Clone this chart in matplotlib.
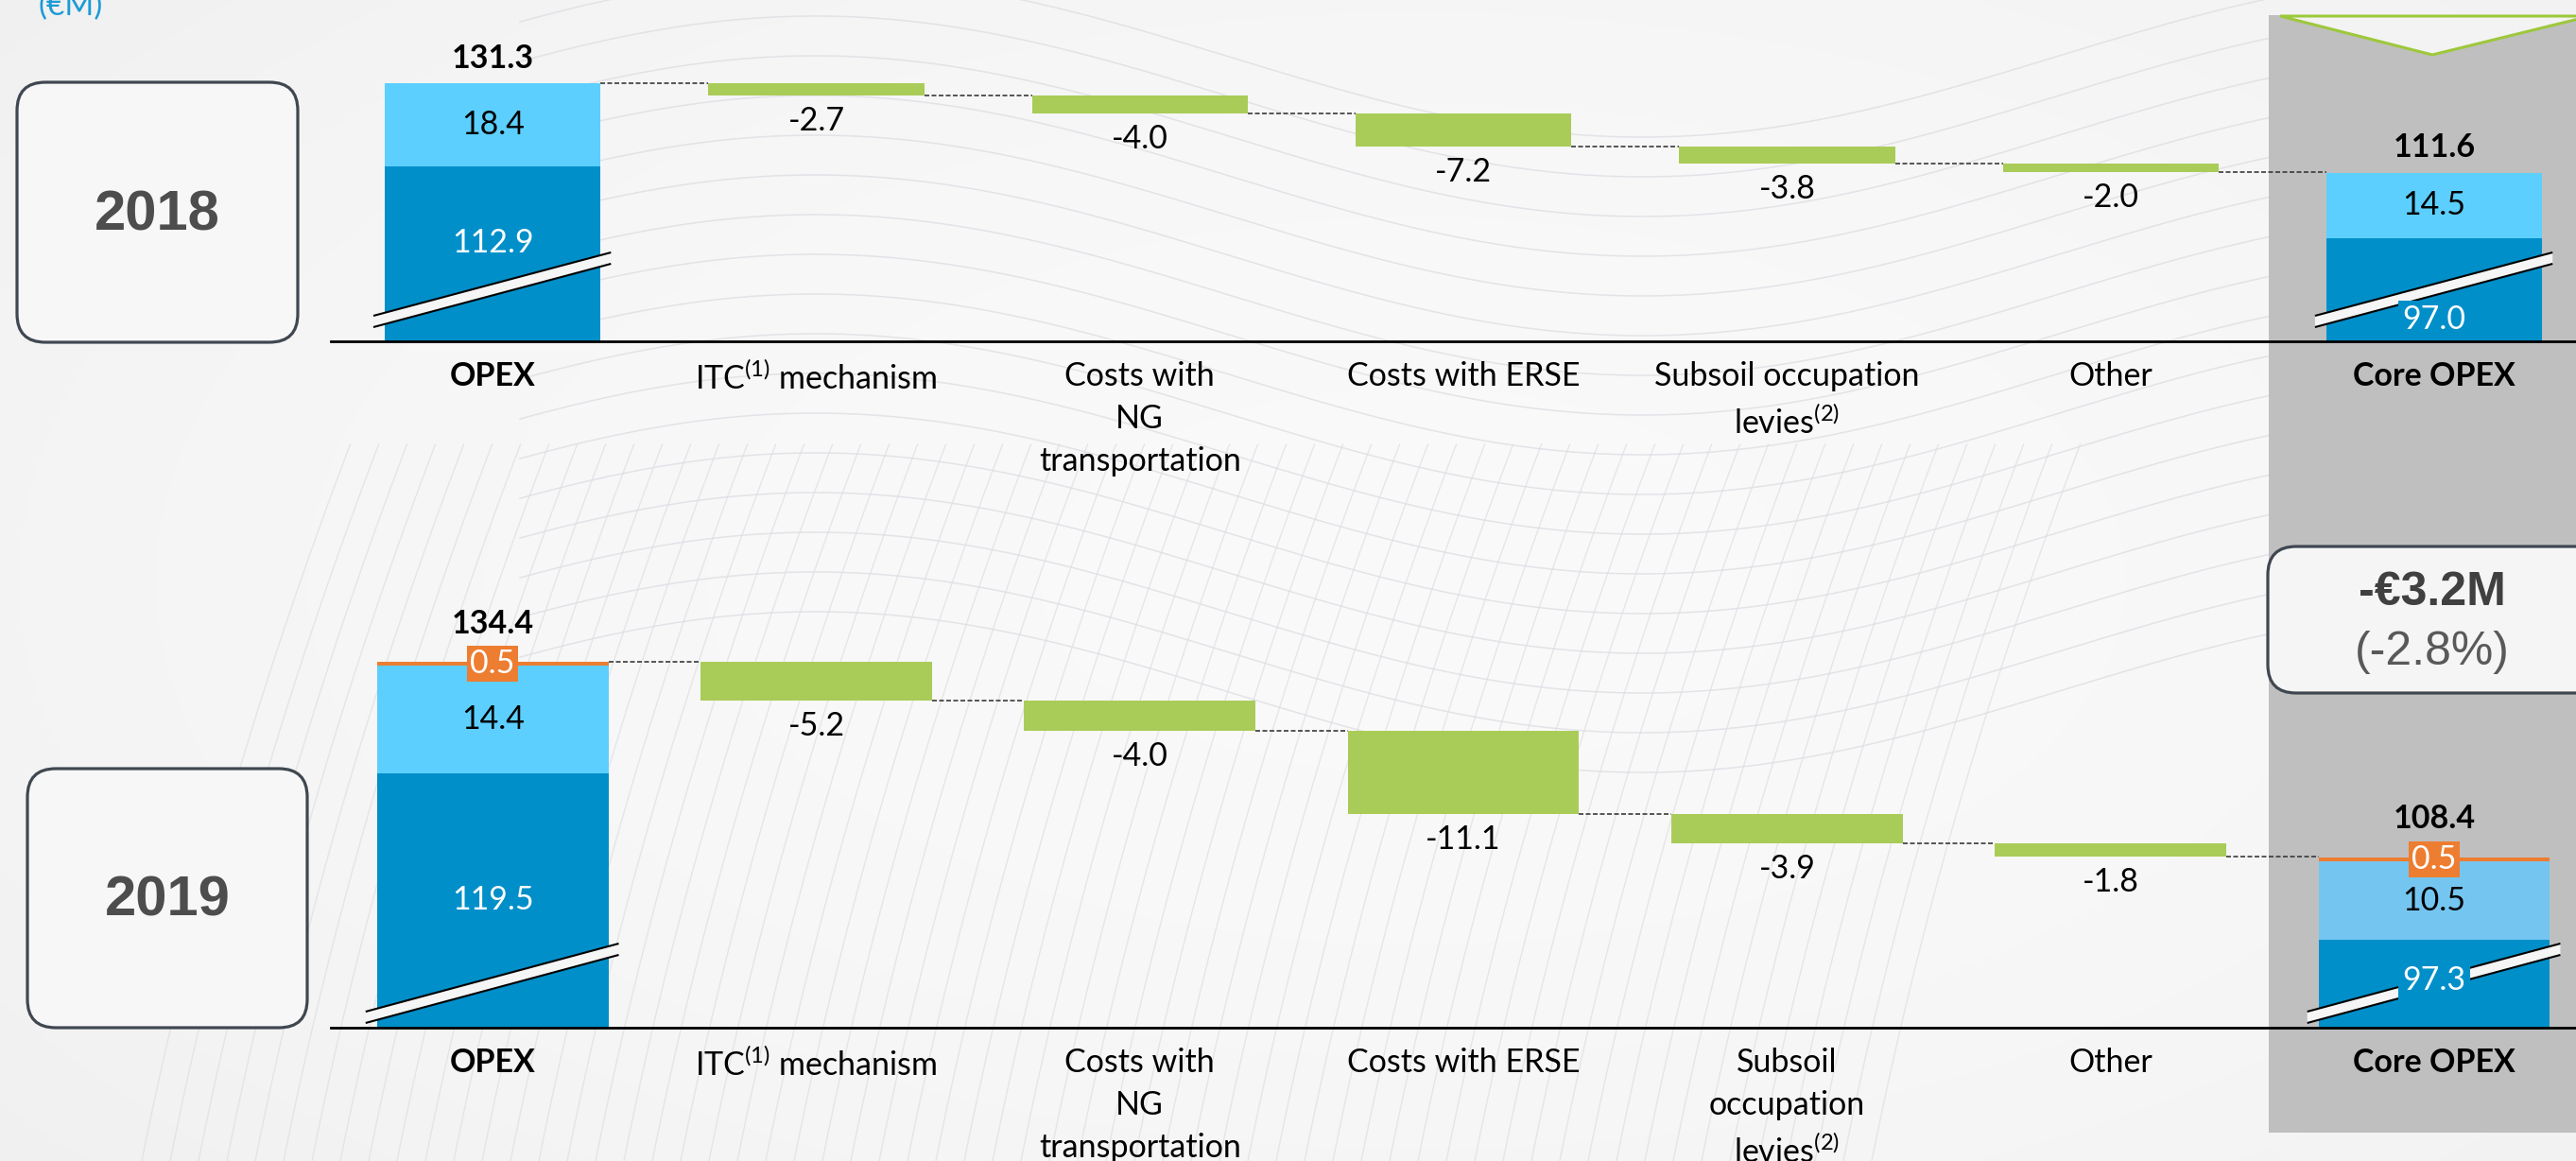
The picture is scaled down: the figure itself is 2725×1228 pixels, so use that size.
import numpy as np
import matplotlib
matplotlib.use("Agg")
import matplotlib.pyplot as plt
from matplotlib.patches import Rectangle, FancyBboxPatch, Polygon
from matplotlib.transforms import Affine2D

# ---------------- data ----------------
start_label = "OPEX"
end_label = "Core OPEX"
step_labels_2018 = ["ITC$^{\\mathrm{(1)}}$ mechanism", "Costs with\nNG\ntransportation",
                    "Costs with ERSE", "Subsoil occupation\nlevies$^{\\mathrm{(2)}}$", "Other"]
step_labels_2019 = ["ITC$^{\\mathrm{(1)}}$ mechanism", "Costs with\nNG\ntransportation",
                    "Costs with ERSE", "Subsoil\noccupation\nlevies$^{\\mathrm{(2)}}$", "Other"]

steps_2018 = [-2.7, -4.0, -7.2, -3.8, -2.0]
steps_2019 = [-5.2, -4.0, -11.1, -3.9, -1.8]

opex_segments_2018 = [112.9, 18.4]          # base, rest
opex_total_2018 = 131.3
core_segments_2018 = [97.0, 14.5]
core_total_2018 = 111.6

opex_segments_2019 = [119.5, 14.4, 0.5]     # base, rest, orange
opex_total_2019 = 134.4
core_segments_2019 = [97.3, 10.5, 0.5]
core_total_2019 = 108.4

years = ["2018", "2019"]
delta_value = "-€3.2M"
delta_pct = "(-2.8%)"
unit_label = "(€M)"

# ---------------- style ----------------
W, H, DPI = 2725, 1228, 100
DARK = "#008fc9"
LIGHT = "#5ccfff"
LIGHT2 = "#74c6f1"
ORANGE = "#ed7d31"
GREEN = "#a9cc58"
PANEL = "#bfbfbf"
BG = "#f5f5f5"
FS = 24.5

plt.rcParams['font.family'] = ['Lato', 'DejaVu Sans']
plt.rcParams['mathtext.fontset'] = 'custom'
plt.rcParams['mathtext.rm'] = 'Lato'
plt.rcParams['mathtext.it'] = 'Lato:italic'
plt.rcParams['mathtext.bf'] = 'Lato:bold'

fig = plt.figure(figsize=(W / DPI, H / DPI), dpi=DPI)
PX = Affine2D().scale(1 / W, -1 / H).translate(0, 1) + fig.transFigure  # pixel coords, top-left origin

# background: soft gradient + faint decorative wave lines
bg = fig.add_axes([0, 0, 1, 1], zorder=-10)
bg.axis('off')
yy, xx = np.mgrid[0:1:200j, 0:1:400j]
v = 0.978 - 0.055 * ((xx - 0.55) ** 2 * 1.3 + (yy - 0.5) ** 2)
bg.imshow(np.dstack([v, v, v]), extent=[0, W, H, 0], aspect='auto', interpolation='bilinear')
xs_dec = np.linspace(550, 2420, 300)
for c in np.arange(60, 760, 42):
    bg.plot(xs_dec, c + 85 * np.sin(2 * np.pi * (xs_dec - 1300) / 1750), color="#dcdce3",
            lw=1.1, alpha=0.75)
ys_dec = np.linspace(H, 470, 200)
for x0 in np.arange(150, 2000, 30):
    t = H - ys_dec
    bg.plot(x0 + 0.2 * t + 0.00012 * t ** 2, ys_dec, color="#dcdce3", lw=1.0, alpha=0.65)
bg.set_xlim(0, W)
bg.set_ylim(H, 0)

# gray highlight panel for Core OPEX
fig.add_artist(Rectangle((2400, 16), 340, 1182, transform=PX, facecolor=PANEL,
                         edgecolor='none', zorder=-5))
fig.add_artist(Polygon([(2412, 17), (2740, 17), (2573, 58)], closed=True, transform=PX,
                       facecolor="#f3f3f3", edgecolor="#9dc83c", lw=2.2, zorder=-4))

# year boxes
for yr, (bx, by, bw, bh) in zip(years, [(18, 87, 297, 275), (29, 813, 296, 274)]):
    fig.add_artist(FancyBboxPatch((bx, by), bw, bh, boxstyle="round,pad=0,rounding_size=30",
                                  transform=PX, facecolor="#f7f7f7", edgecolor="#3f4750",
                                  lw=2.3, zorder=-4))
    fig.text((bx + bw / 2) / W, 1 - (by + bh / 2 + 3) / H, yr, ha='center', va='center',
             fontsize=43, fontweight='bold', color="#4d4d4d", family='Liberation Sans')

# delta box
fig.add_artist(FancyBboxPatch((2399, 578), 360, 155, boxstyle="round,pad=0,rounding_size=30",
                              transform=PX, facecolor="#f5f5f5", edgecolor="#3f4750",
                              lw=2.3, zorder=-4))
fig.text(2573 / W, 1 - 627 / H, delta_value, ha='center', va='center', fontsize=36,
         fontweight='bold', color="#404040", family='Liberation Sans')
fig.text(2573 / W, 1 - 690 / H, delta_pct, ha='center', va='center', fontsize=36,
         color="#595959", family='Liberation Sans')

fig.text(40 / W, 1 - 16 / H, unit_label, ha='left', va='baseline', fontsize=24, color="#1b9ad6")


def data_per_px(ax):
    x0, x1 = ax.get_xlim()
    y0, y1 = ax.get_ylim()
    bb = ax.get_position()
    return (x1 - x0) / (bb.width * W), (y1 - y0) / (bb.height * H)


def draw_break(ax, x, width, hl, hr):
    dx, dy = data_per_px(ax)
    y0 = ax.get_ylim()[0]
    xl, xr = x - width / 2 - 12 * dx, x + width / 2 + 11 * dx
    yl, yr = y0 + hl * dy, y0 + hr * dy
    t = 6 * dy
    ax.add_patch(Polygon([(xl, yl - t), (xr, yr - t), (xr, yr + t), (xl, yl + t)],
                         closed=True, facecolor=BG, edgecolor='none', zorder=3))
    for s in (-t, t):
        ax.plot([xl, xr], [yl + s, yr + s], color='black', lw=1.5, zorder=3.1,
                solid_capstyle='butt')


def draw_panel(ax, opex_segs, opex_total, core_segs, core_total, steps, labels, width,
               core_colors, top_off, dark_offs, brk):
    n = len(steps)
    end_x = n + 1
    ax.set_xticks([])
    ax.set_yticks([])
    for s in ('top', 'left', 'right'):
        ax.spines[s].set_visible(False)
    ax.spines['bottom'].set_linewidth(2.0)
    ax.spines['bottom'].set_color('black')
    ax.patch.set_visible(False)
    y0 = ax.get_ylim()[0]

    seg_sets = [(0, opex_segs, opex_total, [DARK, LIGHT, ORANGE], dark_offs[0]),
                (end_x, core_segs, core_total, core_colors, dark_offs[1])]
    for xi, segs, total, cols, doff in seg_sets:
        bottom = 0
        for k, val in enumerate(segs):
            ax.bar(xi, val, bottom=bottom, width=width, color=cols[k], zorder=2, lw=0)
            if k == 0:
                ax.annotate(f"{val:.1f}", (xi, y0), xytext=(0, doff), textcoords='offset pixels',
                            ha='center', va='center', fontsize=FS, color='white', zorder=5,
                            bbox=dict(boxstyle='square,pad=0.12', fc=cols[0], ec='none'))
            elif k == 1:
                ax.text(xi, bottom + val / 2, f"{val:.1f}", ha='center', va='center',
                        fontsize=FS, color='black', zorder=5)
            else:
                ax.text(xi, bottom + val / 2, f"{val:.1f}", ha='center', va='center',
                        fontsize=FS, color='white', zorder=5,
                        bbox=dict(boxstyle='square,pad=0.1', fc=ORANGE, ec='none'))
            bottom += val
        ax.annotate(f"{total:.1f}", (xi, total), xytext=(0, top_off), textcoords='offset pixels',
                    ha='center', va='center', fontsize=FS, fontweight='bold', color='black')
        draw_break(ax, xi, width, brk[0], brk[1])

    level = opex_total
    for i, d in enumerate(steps):
        x = i + 1
        new = level + d
        ax.bar(x, -d, bottom=new, width=width, color=GREEN, zorder=2, lw=0)
        ax.plot([x - 1 + width / 2, x - width / 2], [level, level], color='#3a3a3a', lw=1.2,
                ls=(0, (3, 1.5)), zorder=1)
        ax.annotate(f"{d:.1f}", (x, new), xytext=(0, -27), textcoords='offset pixels',
                    ha='center', va='center', fontsize=FS, color='black')
        level = new
    ax.plot([end_x - 1 + width / 2, end_x - width / 2], [level, level], color='#3a3a3a', lw=1.2,
            ls=(0, (3, 1.5)), zorder=1)

    all_labels = [start_label] + labels + [end_label]
    for i, lab in enumerate(all_labels):
        bold = i in (0, end_x)
        ax.annotate(lab, (i, 0), xycoords=('data', 'axes fraction'), xytext=(0, -21),
                    textcoords='offset pixels', ha='center', va='top', fontsize=FS,
                    fontweight='bold' if bold else 'normal', linespacing=1.5,
                    annotation_clip=False, color='black')


XL = (-0.5, 6.438)

# 2018 panel: baseline at pixel 361
ax1 = fig.add_axes([350 / W, 1 - 361 / H, (W - 350) / W, 361 / H])
ax1.set_xlim(*XL)
ax1.set_ylim(74.2, 74.2 + 361 / 4.78)
draw_panel(ax1, opex_segments_2018, opex_total_2018, core_segments_2018, core_total_2018,
           steps_2018, step_labels_2018, 0.667, [DARK, LIGHT], 26, (104, 23), (21, 88))

# 2019 panel: baseline at pixel 1087
ax2 = fig.add_axes([350 / W, 1 - 1087 / H, (W - 350) / W, (1087 - 560) / H])
ax2.set_xlim(*XL)
ax2.set_ylim(85.6, 85.6 + 527 / 7.93)
draw_panel(ax2, opex_segments_2019, opex_total_2019, core_segments_2019, core_total_2019,
           steps_2019, step_labels_2019, 0.715, [DARK, LIGHT2, ORANGE], 40, (135, 50), (11, 83))

fig.savefig("out.png", dpi=DPI)
